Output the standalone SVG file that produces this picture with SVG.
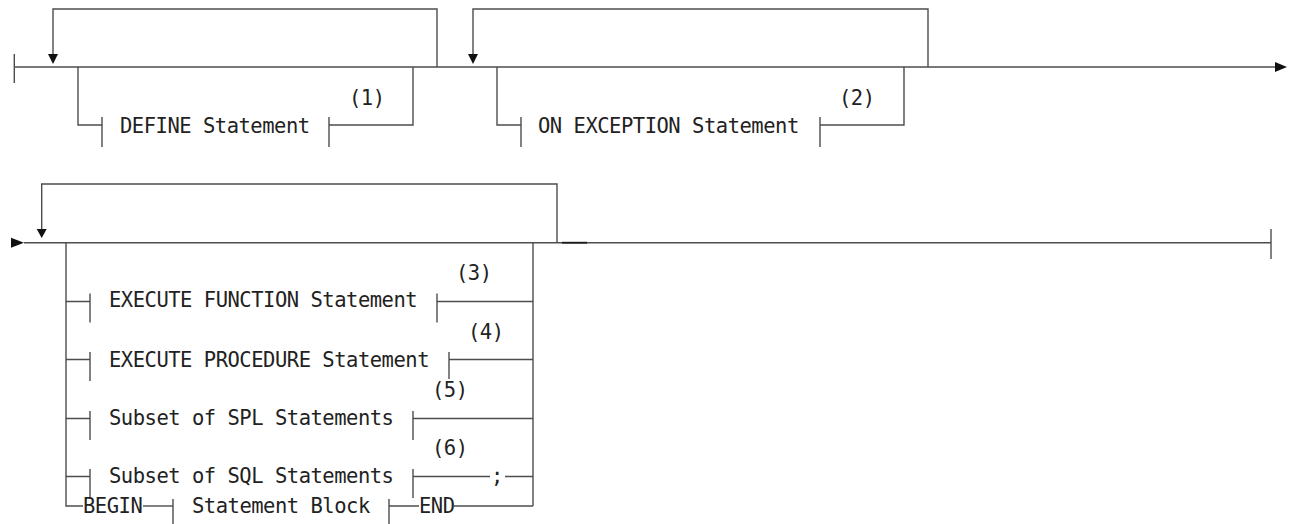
<svg xmlns="http://www.w3.org/2000/svg" width="1289" height="524" viewBox="0 0 1289 524">
<style>
.ln{fill:none;stroke:#4d4d4d;stroke-width:1.4;stroke-linecap:butt}
.ah{fill:#111;stroke:none}
.t{font-family:"DejaVu Sans Mono","Liberation Mono",monospace;font-size:20.5px;letter-spacing:-0.49px;fill:#222}
</style>
<rect width="1289" height="524" fill="#fff"/>
<g id="connectors">
  <!-- top row -->
  <path class="ln" d="M14.3 54 V83"/>
  <path class="ln" d="M14.3 67 H1276"/>
  <path class="ln" d="M53 55 V9 H437 V67"/>
  <path class="ln" d="M78 67 V125 H102"/>
  <path class="ln" d="M329 125 H413 V67"/>
  <path class="ln" d="M473 55 V9 H928 V67"/>
  <path class="ln" d="M497 67 V125 H521"/>
  <path class="ln" d="M820 125 H904 V67"/>
  <polygon class="ah" points="48,54 58,54 53,64"/>
  <polygon class="ah" points="468,54 478,54 473,64"/>
  <polygon class="ah" points="1275,62 1287,67 1275,72"/>
  <!-- second row -->
  <polygon class="ah" points="11,237.7 24,242.7 11,247.7"/>
  <path class="ln" d="M24 242.7 H1271"/>
  <path class="ln" d="M1271 229 V259"/>
  <path d="M562 242.7 H587" stroke="#1a1a1a" stroke-width="1.8"/>
  <path class="ln" d="M41.7 230 V184 H557 V242.7"/>
  <polygon class="ah" points="36.7,229 46.7,229 41.7,238"/>
  <path class="ln" d="M66 242.7 V506 H83"/>
  <path class="ln" d="M66 301.5 H90 M66 359.5 H90 M66 418.5 H90 M66 476.5 H90"/>
  <path class="ln" d="M533 242.7 V506"/>
  <path class="ln" d="M437 301.5 H533"/>
  <path class="ln" d="M449 359.5 H533"/>
  <path class="ln" d="M413 418.5 H533"/>
  <path class="ln" d="M413 476.5 H490 M505 476.5 H533"/>
  <path class="ln" d="M143 506 H173"/>
  <path class="ln" d="M389 506 H419 M454 506 H533"/>
</g>
<g id="n-define">
  <path class="ln" d="M102 117 V147 M329 117 V147"/>
  <text class="t" x="120" y="133">DEFINE Statement</text>
  <text class="t" x="349" y="105">(1)</text>
</g>
<g id="n-onexception">
  <path class="ln" d="M521 117 V147 M820 117 V147"/>
  <text class="t" x="538" y="133">ON EXCEPTION Statement</text>
  <text class="t" x="839" y="105">(2)</text>
</g>
<g id="n-exefunc">
  <path class="ln" d="M90 293.5 V322.5 M437 293.5 V322.5"/>
  <text class="t" x="109" y="307">EXECUTE FUNCTION Statement</text>
  <text class="t" x="456" y="280">(3)</text>
</g>
<g id="n-exeproc">
  <path class="ln" d="M90 352 V381 M449 352 V379"/>
  <text class="t" x="109" y="367">EXECUTE PROCEDURE Statement</text>
  <text class="t" x="468" y="339">(4)</text>
</g>
<g id="n-spl">
  <path class="ln" d="M90 411 V440 M413 411 V440"/>
  <text class="t" x="109" y="425">Subset of SPL Statements</text>
  <text class="t" x="432" y="397">(5)</text>
</g>
<g id="n-sql">
  <path class="ln" d="M90 469 V498 M413 469 V498"/>
  <text class="t" x="109" y="483">Subset of SQL Statements</text>
  <text class="t" x="432" y="455">(6)</text>
</g>
<g id="n-semicolon">
  <text class="t" x="491" y="483">;</text>
</g>
<g id="n-begin">
  <text class="t" x="83" y="513">BEGIN</text>
</g>
<g id="n-block">
  <path class="ln" d="M173 499 V524 M389 499 V524"/>
  <text class="t" x="192" y="513">Statement Block</text>
</g>
<g id="n-end">
  <text class="t" x="419" y="513">END</text>
</g>
</svg>
